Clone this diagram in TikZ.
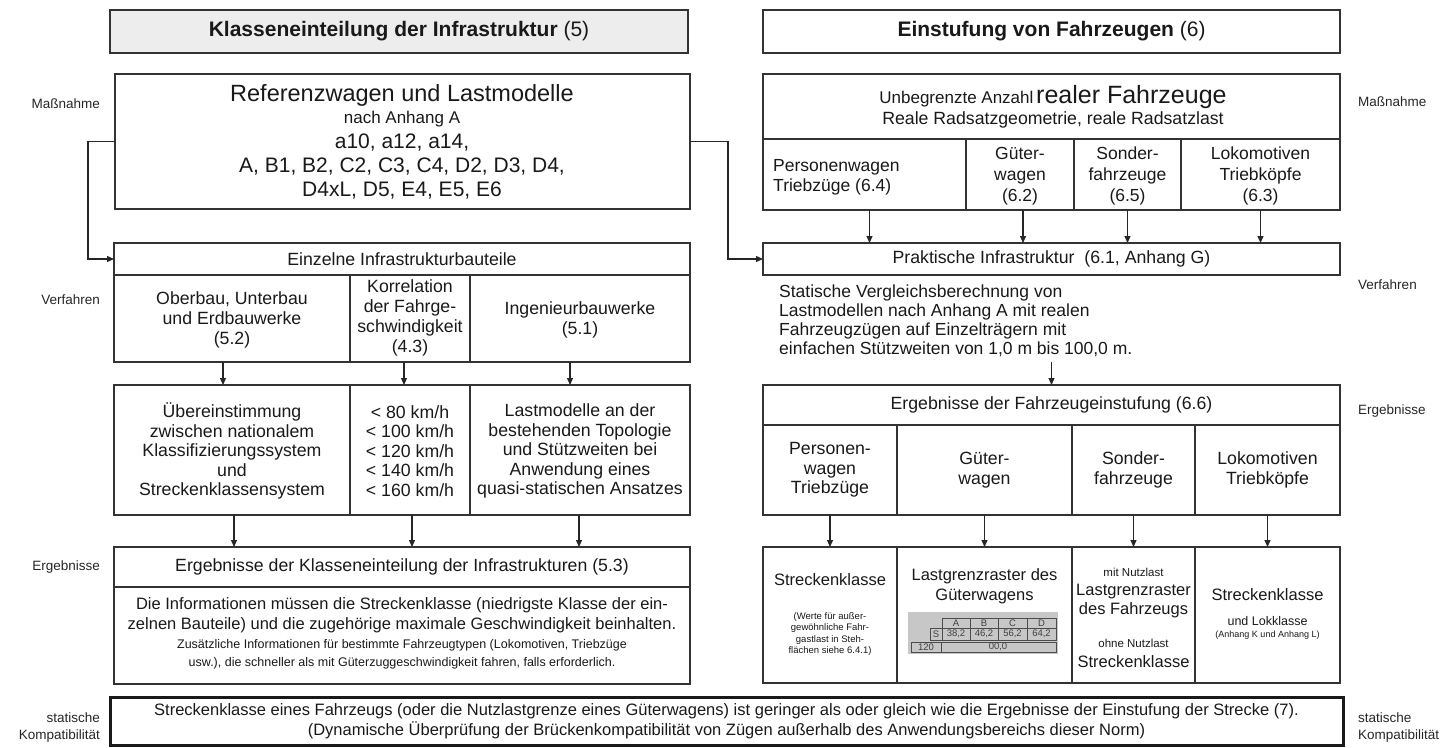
\documentclass[tikz,border=0pt]{standalone}
\usepackage{fontspec}
\setmainfont{Liberation Sans}
\usetikzlibrary{arrows.meta}
\newcommand\fs[2]{\fontsize{#1}{#2}\selectfont}
\newcommand\bnode[6][]{%
  \node[box,#1,minimum width={(#5)-(#3)},minimum height={(#6)-(#4)}] (#2) at ({((#3)+(#5))/2},{((#4)+(#6))/2}) {};}
\begin{document}
\begin{tikzpicture}[x=1pt,y=-1pt,
  box/.style={draw=black!80, line width=1.3pt, rectangle, inner sep=0pt, outer sep=0pt},
  txt/.style={inner sep=0pt, align=center, text=black!90},
  lbl/.style={inner sep=0pt, text=black!85, font=\fs{13.5}{17}},
  arr/.style={draw=black!85, line width=1.2pt, -{Triangle[length=7pt,width=6pt]}},
  tab/.style={draw=black!70, line width=0.8pt},
  tabt/.style={inner sep=0pt, text=black!75, font=\fs{9.5}{10}}]
\useasboundingbox (0,0) rectangle (1447,747);

% ---------------- left column ----------------
\bnode[fill=black!7]{H1}{110}{10}{688}{53}
\node[txt,font=\fs{21}{24}] (H1t) at (H1) {\textbf{Klasseneinteilung der Infrastruktur} (5)};

\bnode{R1}{115}{74}{690}{209}
\node[txt,font=\fs{23.5}{26}] (r1a) at (402,95) {Referenzwagen und Lastmodelle};
\node[txt,font=\fs{17}{20}] (r1b) at (402,119) {nach Anhang A};
\node[txt,font=\fs{21}{24}] (r1c) at (402,143) {a10, a12, a14,};
\node[txt,font=\fs{21}{24}] (r1d) at (402,167) {A, B1, B2, C2, C3, C4, D2, D3, D4,};
\node[txt,font=\fs{21}{24}] (r1e) at (402,191) {D4xL, D5, E4, E5, E6};

\bnode{E0}{114}{243}{690}{275}
\node[txt,font=\fs{17.7}{20}] (E0t) at (E0) {Einzelne Infrastrukturbauteile};
\bnode{E1}{114}{275}{350}{362}
\bnode{E2}{350}{275}{470}{362}
\bnode{E3}{470}{275}{690}{362}
\node[txt,font=\fs{17.7}{20}] (E1t) at (232,320) {Oberbau, Unterbau\\und Erdbauwerke\\(5.2)};
\node[txt,font=\fs{17.7}{20}] (E2t) at (410,318) {Korrelation\\der Fahrge-\\schwindigkeit\\(4.3)};
\node[txt,font=\fs{17.7}{20}] (E3t) at (580,320) {Ingenieurbauwerke\\(5.1)};

\bnode{F1}{114}{385}{350}{515}
\bnode{F2}{350}{385}{470}{515}
\bnode{F3}{470}{385}{690}{515}
\node[txt,font=\fs{17.7}{19.5}] (F1t) at (232,451) {Übereinstimmung\\zwischen nationalem\\Klassifizierungssystem\\und\\Streckenklassensystem};
\node[txt,font=\fs{17.7}{19.5}] (F2t) at (410,451) {< 80 km/h\\< 100 km/h\\< 120 km/h\\< 140 km/h\\< 160 km/h};
\node[txt,font=\fs{17.7}{19.5}] (F3t) at (580,451) {Lastmodelle an der\\bestehenden Topologie\\und Stützweiten bei\\Anwendung eines\\quasi-statischen Ansatzes};

\bnode{G0}{114}{547}{690}{587}
\node[txt,font=\fs{17.7}{20}] (G0t) at (G0) {Ergebnisse der Klasseneinteilung der Infrastrukturen (5.3)};
\bnode{G1}{114}{587}{690}{684}
\node[txt,font=\fs{16.5}{20}] (G1a) at (402,615) {Die Informationen müssen die Streckenklasse (niedrigste Klasse der ein-\\zelnen Bauteile) und die zugehörige maximale Geschwindigkeit beinhalten.};
\node[txt,font=\fs{12.5}{18}] (G1b) at (402,654) {Zusätzliche Informationen für bestimmte Fahrzeugtypen (Lokomotiven, Triebzüge\\usw.), die schneller als mit Güterzuggeschwindigkeit fahren, falls erforderlich.};

% ---------------- right column ----------------
\bnode{H2}{763}{10}{1340}{53}
\node[txt,font=\fs{21}{24}] (H2t) at (H2) {\textbf{Einstufung von Fahrzeugen} (6)};

\bnode{T0}{763}{74}{1340}{139}
\node[txt,anchor=base] (T0a) at (1053,103) {{\fs{17}{20}Unbegrenzte Anzahl} {\fs{25}{28}realer Fahrzeuge}};
\node[txt,anchor=base,font=\fs{17.7}{20}] (T0b) at (1053,124) {Reale Radsatzgeometrie, reale Radsatzlast};
\bnode{T1}{763}{139}{966}{210}
\bnode{T2}{966}{139}{1074}{210}
\bnode{T3}{1074}{139}{1181}{210}
\bnode{T4}{1181}{139}{1340}{210}
\node[txt,align=left,anchor=west,font=\fs{17.5}{20}] (T1t) at (773,177) {Personenwagen\\Triebzüge (6.4)};
\node[txt,font=\fs{17.5}{21}] (T2t) at (1020,176) {Güter-\\wagen\\(6.2)};
\node[txt,font=\fs{17.5}{21}] (T3t) at (1127.5,176) {Sonder-\\fahrzeuge\\(6.5)};
\node[txt,font=\fs{17.5}{21}] (T4t) at (1260.5,176) {Lokomotiven\\Triebköpfe\\(6.3)};

\bnode{P0}{763}{243}{1340}{275}
\node[txt,font=\fs{17.7}{20}] (P0t) at (P0) {Praktische Infrastruktur\ \ (6.1, Anhang G)};
\node[txt,align=left,anchor=west,font=\fs{17.5}{19}] (vgl) at (779,321) {Statische Vergleichsberechnung von\\Lastmodellen nach Anhang A mit realen\\Fahrzeugzügen auf Einzelträgern mit\\einfachen Stützweiten von 1,0 m bis 100,0 m.};
\coordinate (vglend) at (1051.5,362);

\bnode{Q0}{763}{385}{1340}{425}
\node[txt,font=\fs{17.7}{20}] (Q0t) at (Q0) {Ergebnisse der Fahrzeugeinstufung (6.6)};
\bnode{Q1}{763}{425}{897}{515}
\bnode{Q2}{897}{425}{1072}{515}
\bnode{Q3}{1072}{425}{1195}{515}
\bnode{Q4}{1195}{425}{1340}{515}
\node[txt,font=\fs{17.7}{19.5}] (Q1t) at (Q1) {Personen-\\wagen\\Triebzüge};
\node[txt,font=\fs{17.7}{20}] (Q2t) at (Q2) {Güter-\\wagen};
\node[txt,font=\fs{17.7}{20}] (Q3t) at (Q3) {Sonder-\\fahrzeuge};
\node[txt,font=\fs{17.7}{20}] (Q4t) at (Q4) {Lokomotiven\\Triebköpfe};

\bnode{S1}{763}{547}{897}{683}
\bnode{S2}{897}{547}{1072}{683}
\bnode{S3}{1072}{547}{1195}{683}
\bnode{S4}{1195}{547}{1340}{683}
\node[txt,font=\fs{16.5}{20}] (S1a) at (830,580) {Streckenklasse};
\node[txt,font=\fs{9.5}{11.3}] (S1b) at (830,634) {(Werte für außer-\\gewöhnliche Fahr-\\gastlast in Steh-\\flächen siehe 6.4.1)};
\node[txt,font=\fs{16.5}{20}] (S2a) at (984.5,586) {Lastgrenzraster des\\Güterwagens};
\node[txt,font=\fs{11.5}{14}] (S3a) at (1133.5,572) {mit Nutzlast};
\node[txt,font=\fs{16.5}{19}] (S3b) at (1133.5,601) {Lastgrenzraster\\des Fahrzeugs};
\node[txt,font=\fs{11.5}{14}] (S3c) at (1133.5,643) {ohne Nutzlast};
\node[txt,font=\fs{16.5}{19}] (S3d) at (1133.5,662) {Streckenklasse};
\node[txt,font=\fs{16.5}{20}] (S4a) at (1267.5,595) {Streckenklasse};
\node[txt,font=\fs{12.5}{14}] (S4b) at (1267.5,621) {und Lokklasse};
\node[txt,font=\fs{9}{10}] (S4c) at (1267.5,635) {(Anhang K und Anhang L)};

% small load limit table (Lastgrenzraster)
\fill[black!22] (908,612) rectangle (1058,654);
\draw[tab] (942,618) rectangle (1056,628);
\draw[tab] (970,618) -- (970,640) (998,618) -- (998,640) (1027,618) -- (1027,640);
\draw[tab] (930,628) rectangle (1056,640) (942,628) -- (942,640);
\draw[tab] (911,642) rectangle (1056,652) (941,642) -- (941,652);
\node[tabt] at (956,623) {A};
\node[tabt] at (984,623) {B};
\node[tabt] at (1012.5,623) {C};
\node[tabt] at (1041.5,623) {D};
\node[tabt] at (936,634) {S};
\node[tabt] at (956,634) {38,2};
\node[tabt] at (984,634) {46,2};
\node[tabt] at (1012.5,634) {56,2};
\node[tabt] at (1041.5,634) {64,2};
\node[tabt] at (926,647) {120};
\node[tabt] at (998,647) {00,0};

% ---------------- bottom box ----------------
\bnode[line width=3pt,draw=black!90]{B}{110}{697}{1343}{745}
\node[txt,font=\fs{16.5}{19.5}] (Bt) at (B) {Streckenklasse eines Fahrzeugs (oder die Nutzlastgrenze eines Güterwagens) ist geringer als oder gleich wie die Ergebnisse der Einstufung der Strecke (7).\\(Dynamische Überprüfung der Brückenkompatibilität von Zügen außerhalb des Anwendungsbereichs dieser Norm)};

% ---------------- side labels ----------------
\node[lbl,anchor=east] (lm) at (100,104) {Maßnahme};
\node[lbl,anchor=east] (lv) at (100,300) {Verfahren};
\node[lbl,anchor=east] (le) at (100,567) {Ergebnisse};
\node[lbl,anchor=east,align=right] (lk) at (100,727) {statische\\Kompatibilität};
\node[lbl,anchor=west] (rm) at (1358,102) {Maßnahme};
\node[lbl,anchor=west] (rv) at (1358,285) {Verfahren};
\node[lbl,anchor=west] (re) at (1358,411) {Ergebnisse};
\node[lbl,anchor=west,align=left] (rk) at (1358,727) {statische\\Kompatibilität};

% ---------------- connectors ----------------
\draw[arr] (R1.west) -- ++(-27,0) |- (E0.west);
\draw[arr] (R1.east) -- ++(38,0) |- (P0.west);
\draw[arr] ([xshift=-9pt]E1.south) -- ([xshift=-9pt]F1.north);
\draw[arr] ([xshift=-6pt]E2.south) -- ([xshift=-6pt]F2.north);
\draw[arr] ([xshift=-10pt]E3.south) -- ([xshift=-10pt]F3.north);
\draw[arr] ([xshift=2pt]F1.south) -- ([xshift=2pt]G0.north -| F1.south);
\draw[arr] ([xshift=2pt]F2.south) -- ([xshift=2pt]G0.north -| F2.south);
\draw[arr] ([xshift=-1pt]F3.south) -- ([xshift=-1pt]G0.north -| F3.south);
\draw[arr] ([xshift=5pt]T1.south) -- ([xshift=5pt]P0.north -| T1.south);
\draw[arr] ([xshift=3pt]T2.south) -- ([xshift=3pt]P0.north -| T2.south);
\draw[arr] (T3.south) -- (P0.north -| T3.south);
\draw[arr] (T4.south) -- (P0.north -| T4.south);
\draw[arr] (vglend) -- (Q0.north);
\draw[arr] (Q1.south) -- (S1.north);
\draw[arr] (Q2.south) -- (S2.north);
\draw[arr] (Q3.south) -- (S3.north);
\draw[arr] (Q4.south) -- (S4.north);
\end{tikzpicture}
\end{document}
